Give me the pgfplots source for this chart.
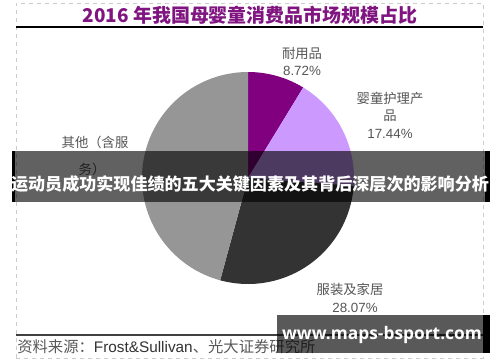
\documentclass[border=0pt]{standalone}
\usepackage{pgfplots}
\pgfplotsset{compat=1.18}
\usepackage{fontspec}
\setmainfont{Liberation Sans}
\newfontfamily\cjk{Noto Sans CJK SC}
\newfontfamily\wm{Open Sans}
\definecolor{durable}{RGB}{128,0,128}
\definecolor{care}{RGB}{204,153,255}
\definecolor{cloth}{RGB}{51,51,51}
\definecolor{other}{RGB}{150,150,150}
\definecolor{ttl}{RGB}{128,20,128}
\definecolor{lbl}{RGB}{85,85,85}
\begin{document}
\begin{tikzpicture}
\begin{axis}[
  scale only axis, width=375pt, height=271.5pt,
  xmin=0, xmax=500, ymin=0, ymax=362,
  hide axis, clip=false,
]
% background and frame
\fill[white] (axis cs:0,0) rectangle (axis cs:500,362);
\draw[gray!40, dashed, line width=0.4pt] (axis cs:16,4) rectangle (axis cs:483,359);
\draw[black, line width=0.8pt] (axis cs:16,335) -- (axis cs:483,335);
\draw[black!75, line width=0.8pt] (axis cs:16,27) -- (axis cs:483,27);
\node[font=\cjk\bfseries\fontsize{14.2}{16}\selectfont, text=ttl] at (axis cs:250,347) {2016 年我国母婴童消费品市场规模占比};

% pie: shares in percent 8.72, 17.44, 28.07, 45.77 (clockwise from 12 o'clock)
\addplot[fill=durable, draw=none, domain={90-3.6*8.72}:90, samples=40]
  ({248+106*cos(x)},{184+106*sin(x)}) -- (axis cs:248,184) -- cycle;
\addplot[fill=care, draw=none, domain={90-3.6*(8.72+17.44)}:{90-3.6*8.72}, samples=60]
  ({248+106*cos(x)},{184+106*sin(x)}) -- (axis cs:248,184) -- cycle;
\addplot[fill=cloth, draw=none, domain={90-3.6*(8.72+17.44+28.07)}:{90-3.6*(8.72+17.44)}, samples=80]
  ({248+106*cos(x)},{184+106*sin(x)}) -- (axis cs:248,184) -- cycle;
\addplot[fill=other, draw=none, domain={90-3.6*(8.72+17.44+28.07+45.77)}:{90-3.6*(8.72+17.44+28.07)}, samples=120]
  ({248+106*cos(x)},{184+106*sin(x)}) -- (axis cs:248,184) -- cycle;

% labels
\begin{scope}[every node/.style={text=lbl, font=\cjk\fontsize{10}{12}\selectfont, inner sep=0pt}]
\node at (axis cs:302,309) {耐用品};
\node[font=\fontsize{10}{12}\selectfont] at (axis cs:302,291) {8.72\%};
\node at (axis cs:390,264) {婴童护理产};
\node at (axis cs:390,246) {品};
\node[font=\fontsize{10}{12}\selectfont] at (axis cs:390,228) {17.44\%};
\node at (axis cs:95,220) {其他（含服};
\node at (axis cs:92,193) {务）};
\node at (axis cs:350,73) {服装及家居};
\node[font=\fontsize{10}{12}\selectfont] at (axis cs:355,54) {28.07\%};
\end{scope}

% source
\node[anchor=west, text=black!65, inner sep=0pt, font=\cjk\fontsize{11.5}{13}\selectfont] at (axis cs:17,15) {资料来源：{\fontspec{Liberation Sans}\color{black!80}Frost\&Sullivan}、光大证券研究所};

% banner overlay
\fill[black, opacity=0.62] (axis cs:12,160) rectangle (axis cs:490,211);
\fill[black] (axis cs:12,160) rectangle (axis cs:14.5,211);
\fill[black] (axis cs:485,160) rectangle (axis cs:490,211);
\node[text=white, font=\cjk\bfseries\fontsize{12.8}{14}\selectfont, inner sep=0pt] at (axis cs:250,178) {运动员成功实现佳绩的五大关键因素及其背后深层次的影响分析};

% watermark
\fill[black, opacity=0.65] (axis cs:277,9) rectangle (axis cs:483,47);
\fill[black] (axis cs:483,9) rectangle (axis cs:490,47);
\node[text=white, font=\wm\bfseries\fontsize{13}{15}\selectfont, inner sep=0pt] at (axis cs:382,27) {www.maps-bsport.com};
\end{axis}
\end{tikzpicture}
\end{document}
